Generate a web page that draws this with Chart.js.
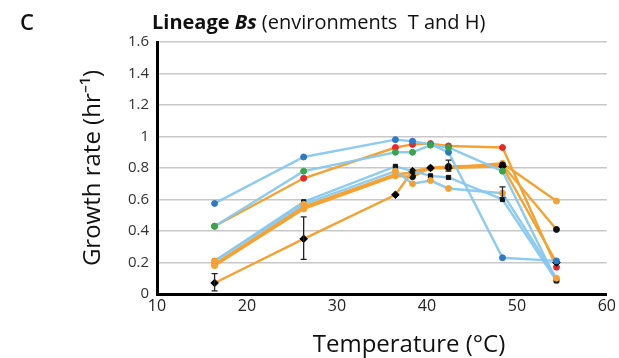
<!DOCTYPE html>
<html><head><meta charset="utf-8">
<script src="https://cdn.jsdelivr.net/npm/chart.js@4/dist/chart.umd.min.js"></script>
<style>html,body{margin:0;padding:0;background:#fff}#wrap{width:619px;height:358px;position:relative}</style>
</head><body><div id="wrap"><canvas id="c" width="619" height="358"></canvas></div>
<script>
// ---- data ----
const panelLetter = "C";
const titleParts = ["Lineage ", "Bs", " (environments  T and H)"];
const xTitle = "Temperature (°C)";
const yTitle = "Growth rate (hr⁻¹)";
const temps = [16.4, 26.3, 36.5, 38.4, 40.4, 42.4, 48.4, 54.4];
const yTickLabels = ["0", "0.2", "0.4", "0.6", "0.8", "1", "1.2", "1.4", "1.6"];
const xTickLabels = ["10", "20", "30", "40", "50", "60"];

const blueDots     = [0.575, 0.87, 0.98, 0.97, 0.95, 0.90, 0.23, 0.21];
const greenDots    = [0.43, 0.78, 0.90, 0.90, 0.945, 0.93, 0.78, 0.085];
const blackSquares = [0.21, 0.585, 0.81, 0.78, 0.75, 0.74, 0.60, 0.085];
const orangeOnBlue = [0.21, 0.57, 0.78, 0.70, 0.72, 0.67, 0.64, 0.10];
const redDots      = [0.43, 0.735, 0.93, 0.95, 0.955, 0.94, 0.93, 0.17];
const orangeDots   = [0.19, 0.555, 0.76, 0.77, 0.80, 0.80, 0.83, 0.59];
const blackDots    = [0.18, 0.54, 0.75, 0.745, 0.80, 0.81, 0.82, 0.41];
const blackDiamond = [0.07, 0.35, 0.63, 0.78, 0.80, 0.80, 0.81, 0.20];

const diamondErr   = [[0.02, 0.13], [0.22, 0.49], null, null, null, null, null, null];
const orangeOnBlueErr = [null, null, null, null, null, null, [0.61, 0.68], null];
const blackDotsErr = [null, null, null, null, null, [0.78, 0.85], null, null];

const LB = "rgba(135,200,240,0.95)";
const OR = "#f6a232";
const BK = "#111";
// per-point marker colours for the orange line with black markers at high temperatures
const blackDotsMarkers = [OR, OR, OR, BK, OR, BK, BK, BK];
const redDotsMarkers = ['#e8262b', '#e8262b', '#e8262b', '#e8262b', '#e8262b', '#e8262b', '#e8262b', '#e8262b'];

function pts(vals){ return vals.map((v,i)=>({x: temps[i], y: v})); }
function ds(vals, line, marker, style, err){
  return {data: pts(vals), borderColor: line, backgroundColor: marker, pointBackgroundColor: marker,
    pointBorderColor: marker, pointStyle: style || 'circle', pointRadius: style==='rectRot'?3.8:3,
    pointBorderWidth: 1, borderWidth: 2.4, showLine: true, tension: 0, errors: err || null};
}

const errorBars = {
  id: 'errorBars',
  afterDatasetsDraw(chart){
    const ctx = chart.ctx, xs = chart.scales.x, ys = chart.scales.y;
    chart.data.datasets.forEach(d => {
      if (!d.errors) return;
      d.errors.forEach((e, i) => {
        if (!e) return;
        const x = xs.getPixelForValue(temps[i]);
        const y1 = ys.getPixelForValue(e[0]), y2 = ys.getPixelForValue(e[1]);
        ctx.save(); ctx.strokeStyle = '#222'; ctx.lineWidth = 1.3;
        ctx.beginPath(); ctx.moveTo(x, y1); ctx.lineTo(x, y2);
        ctx.moveTo(x-3, y1); ctx.lineTo(x+3, y1); ctx.moveTo(x-3, y2); ctx.lineTo(x+3, y2);
        ctx.stroke(); ctx.restore();
      });
    });
  }
};

const texts = {
  id: 'texts',
  afterDraw(chart){
    const ctx = chart.ctx;
    ctx.save();
    ctx.fillStyle = '#111';
    ctx.textBaseline = 'alphabetic';
    ctx.font = '600 22px "Open Sans"';
    ctx.textAlign = 'left';
    ctx.fillText(panelLetter, 20, 30);
    const fonts = ['bold 20px "Open Sans"', 'italic bold 20px "Open Sans"', '20px "Open Sans"'];
    let x = 152;
    titleParts.forEach((t, i) => { ctx.font = fonts[i]; ctx.fillText(t, x, 29); x += ctx.measureText(t).width; });
    ctx.font = '24px "Open Sans"';
    ctx.textAlign = 'center';
    ctx.fillText(xTitle, 409, 352);
    ctx.restore();
  }
};

const sets = [
  ds(orangeOnBlue, LB, OR, 'circle', orangeOnBlueErr),
  ds(blackSquares, LB, BK, 'rect'),
  ds(greenDots, LB, '#3aa548'),
  ds(blueDots, LB, '#2f78c4'),
  ds(blackDiamond, OR, '#000', 'rectRot', diamondErr),
  ds(blackDots, OR, blackDotsMarkers, 'circle', blackDotsErr),
  ds(orangeDots, OR, OR),
  ds(redDots, OR, redDotsMarkers),
];

new Chart(document.getElementById('c'), {
  type: 'scatter',
  data: { datasets: sets },
  options: {
    responsive: false, animation: false,
    layout: { padding: { left: 0, right: 9, top: 42, bottom: 0 } },
    plugins: { legend: { display: false }, tooltip: { enabled: false } },
    scales: {
      x: { type: 'linear', min: 10, max: 60,
        afterFit(s){ s.height = 64; },
        ticks: { stepSize: 10, color: '#222', font: { family: 'Open Sans', size: 16 }, padding: 3,
          callback: (v) => xTickLabels[Math.round((v-10)/10)] },
        grid: { display: true, color: 'transparent', drawTicks: false },
        border: { display: true, color: '#000', width: 3 },
        title: { display: false, text: xTitle }
      },
      y: { min: 0, max: 1.6,
        afterFit(s){ s.width = 157; },
        ticks: { stepSize: 0.2, color: '#333', font: { family: 'Open Sans', size: 15 }, padding: 8,
          callback: (v) => yTickLabels[Math.round(v/0.2)] },
        grid: { color: '#c8c8c8', lineWidth: 1.4, drawTicks: false },
        border: { display: true, color: '#000', width: 3 },
        title: { display: true, text: yTitle, color: '#111', font: { family: 'Open Sans', size: 24 },
          padding: { top: 79, bottom: 0 } }
      }
    }
  },
  plugins: [errorBars, texts]
});
</script></body></html>
